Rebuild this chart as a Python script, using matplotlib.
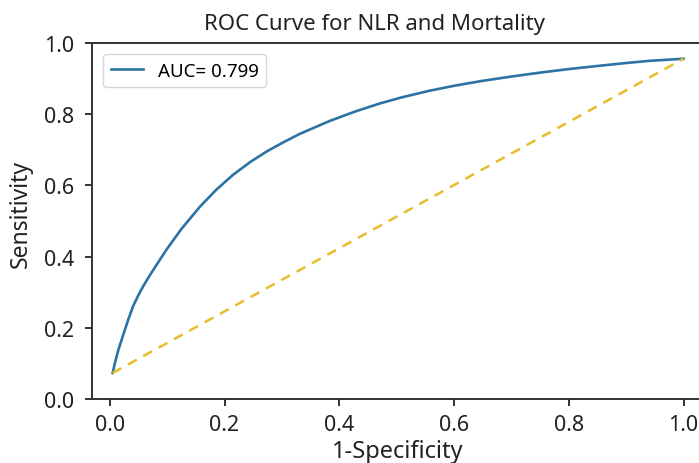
import numpy as np
import matplotlib
matplotlib.use("Agg")
import matplotlib.pyplot as plt

# ROC points
fpr = [0.005, 0.010, 0.015, 0.023, 0.032, 0.041, 0.050, 0.058, 0.068, 0.078,
       0.099, 0.125, 0.157, 0.185, 0.215, 0.245, 0.273, 0.300, 0.330, 0.383,
       0.430, 0.470, 0.510, 0.557, 0.600, 0.650, 0.700, 0.750, 0.800, 0.852,
       0.900, 0.940, 0.970, 1.000]
tpr = [0.073, 0.108, 0.138, 0.178, 0.222, 0.262, 0.292, 0.316, 0.343, 0.368,
       0.420, 0.478, 0.540, 0.587, 0.630, 0.666, 0.695, 0.719, 0.744, 0.781,
       0.809, 0.830, 0.848, 0.866, 0.880, 0.894, 0.906, 0.917, 0.927, 0.936,
       0.944, 0.950, 0.953, 0.956]
auc = 0.799

# chance line between the curve's end points
diag_x = [fpr[0], fpr[-1]]
diag_y = [tpr[0], tpr[-1]]

plt.rcParams['font.family'] = ['Noto Sans', 'DejaVu Sans']

fig = plt.figure(figsize=(6.99, 4.64), dpi=100)
ax = fig.add_axes([0.1316, 0.138, 0.875, 0.767])

ax.plot(fpr, tpr, color='#2b73a3', linewidth=1.9, label='AUC= %.3f' % auc)
ax.plot(diag_x, diag_y, color='#e8bd2a', linewidth=1.8, linestyle='--', dashes=(4, 3))

ax.set_xlim(-0.031, 1.035)
ax.set_ylim(0.0, 1.0)
ax.set_xticks([0.0, 0.2, 0.4, 0.6, 0.8, 1.0])
ax.set_yticks([0.0, 0.2, 0.4, 0.6, 0.8, 1.0])
ax.tick_params(labelsize=15.5, width=1.3, length=5, colors='#222222')
ax.tick_params(axis='x', pad=6)
ax.tick_params(axis='y', pad=8)
for s in ax.spines.values():
    s.set_linewidth(1.4)
    s.set_color('#333333')

ax.set_title('ROC Curve for NLR and Mortality', fontsize=16, pad=10, color='#222222', x=0.462)
ax.set_xlabel('1-Specificity', fontsize=17, labelpad=3, color='#222222')
ax.set_ylabel('Sensitivity', fontsize=16.5, color='#222222')
ax.yaxis.set_label_coords(-0.096, 0.522)
ax.legend(loc='upper left', fontsize=13.5, handlelength=1.7, borderaxespad=0.6)

fig.savefig('out.png', dpi=100)
